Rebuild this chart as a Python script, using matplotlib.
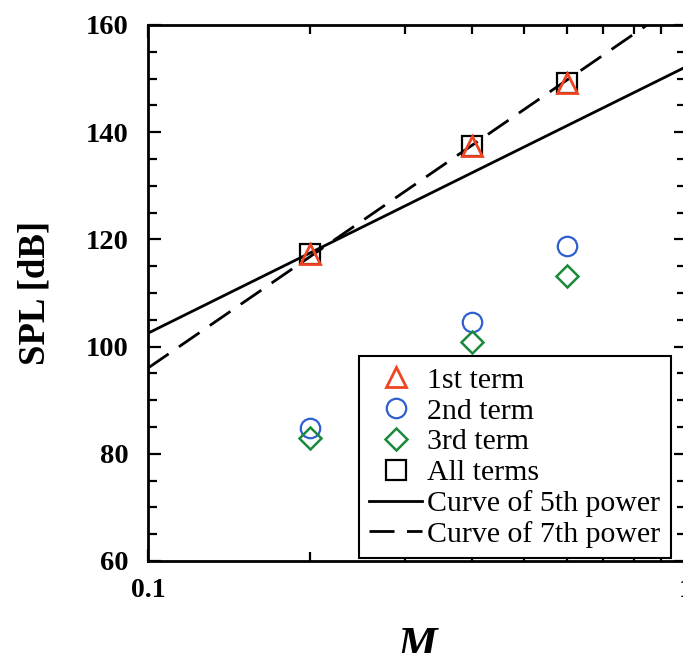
import matplotlib
matplotlib.use("Agg")
import matplotlib.pyplot as plt
from matplotlib.ticker import FixedLocator, NullFormatter

plt.rcParams["font.family"] = ["Liberation Serif", "DejaVu Serif"]

# Mach number of the computed cases
mach = [0.2, 0.4, 0.6]

# SPL [dB] of each term
spl_1st = [117.3, 137.5, 149.2]
spl_2nd = [84.9, 104.5, 118.7]
spl_3rd = [82.9, 100.9, 113.1]
spl_all = [117.3, 137.5, 149.2]

# reference power-law curves (straight lines on log axis), end points
mach_curve = [0.1, 1.0]
spl_5th = [102.5, 152.2]
spl_7th = [96.0, 165.0]

fig = plt.figure(figsize=(6.83, 6.53), dpi=100)
ax = fig.add_axes([148 / 683, 92 / 653, 538 / 683, 536 / 653])

ax.plot(mach_curve, spl_5th, color="black", lw=2, label="Curve of 5th power")
ax.plot(mach_curve, spl_7th, color="black", lw=2, dashes=(9, 4.5), label="Curve of 7th power")

ax.plot(mach, spl_all, ls="none", marker="s", ms=14, mfc="none", mec="black", mew=1.6, label="All terms")
ax.plot(mach, spl_1st, ls="none", marker="^", ms=14, mfc="none", mec="#ee4422", mew=2, label="1st term")
ax.plot(mach, spl_2nd, ls="none", marker="o", ms=14, mfc="none", mec="#2f5fce", mew=1.6, label="2nd term")
ax.plot(mach, spl_3rd, ls="none", marker="D", ms=11, mfc="none", mec="#1a8a3a", mew=1.8, label="3rd term")

ax.set_xscale("log")
ax.set_xlim(0.1, 1)
ax.set_ylim(60, 160)
ax.xaxis.set_major_locator(FixedLocator([0.1, 1]))
ax.xaxis.set_minor_locator(FixedLocator([0.2, 0.3, 0.4, 0.5, 0.6, 0.7, 0.8, 0.9]))
ax.xaxis.set_minor_formatter(NullFormatter())
ax.set_xticklabels(["0.1", "1"])
ax.yaxis.set_major_locator(FixedLocator([60, 80, 100, 120, 140, 160]))
ax.yaxis.set_minor_locator(FixedLocator(list(range(60, 161, 5))))

ax.tick_params(which="both", direction="in", top=True, right=True, width=1.6, colors="black")
ax.tick_params(which="major", length=9)
ax.tick_params(which="minor", length=6.5)
ax.tick_params(axis="y", which="major", pad=14, labelsize=20.5)
ax.tick_params(axis="x", which="major", pad=12, labelsize=20)
for lbl in ax.get_xticklabels() + ax.get_yticklabels():
    lbl.set_fontweight("bold")
for sp in ax.spines.values():
    sp.set_linewidth(2)

ax.set_ylabel("SPL [dB]", fontsize=26.5, fontweight="bold")
ax.yaxis.set_label_coords(-0.178, 0.5)
ax.set_xlabel("M", fontsize=32, fontweight="bold", fontstyle="italic")
ax.xaxis.set_label_coords(0.5, -0.122)

handles, labels = ax.get_legend_handles_labels()
order = [3, 4, 5, 2, 0, 1]
leg = ax.legend([handles[i] for i in order], [labels[i] for i in order],
                loc="lower right", bbox_to_anchor=(0.972, 0.005), fontsize=21.5,
                frameon=True, fancybox=False, edgecolor="black", framealpha=1,
                handlelength=1.77, handletextpad=0.17, labelspacing=0.13,
                borderpad=0.35, borderaxespad=0)
leg.get_frame().set_linewidth(1.5)

fig.savefig("out.png", dpi=100)
